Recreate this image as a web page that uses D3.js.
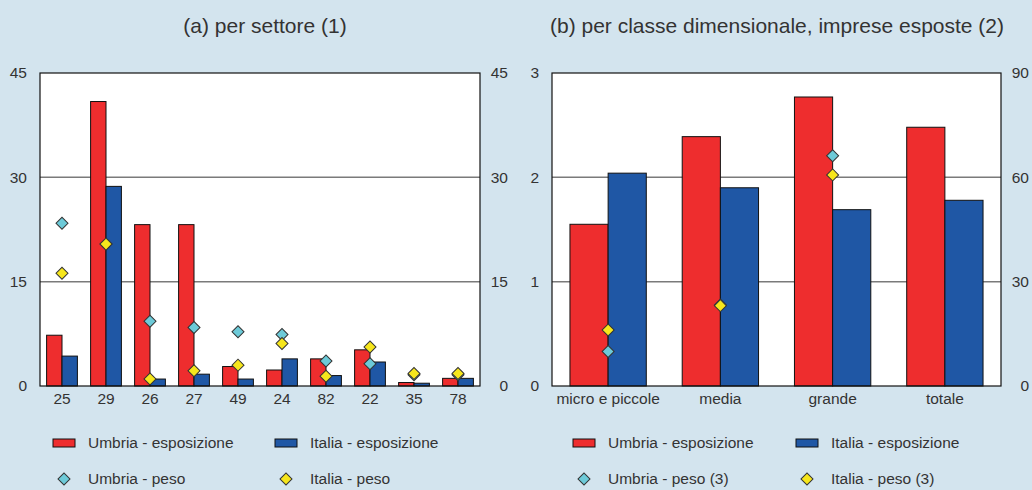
<!DOCTYPE html>
<html>
<head>
<meta charset="utf-8">
<script src="https://cdn.jsdelivr.net/npm/d3@7"></script>
<style>
  body { margin: 0; background: #d3e4ee; }
  svg { display: block; font-family: "Liberation Sans", Arial, sans-serif; }
</style>
</head>
<body>
<svg id="mainSvg" width="1032" height="490"></svg>
<script>
// ---- data, panel (a) per settore
var settori = ["25", "29", "26", "27", "49", "24", "82", "22", "35", "78"];
var umbriaEspA = [7.3, 40.9, 23.2, 23.2, 2.8, 2.3, 3.9, 5.2, 0.5, 1.1];
var italiaEspA = [4.3, 28.7, 1.0, 1.7, 1.0, 3.9, 1.5, 3.45, 0.4, 1.1];
var umbriaPesoA = [23.4, 20.4, 9.3, 8.4, 7.8, 7.4, 3.6, 3.2, 1.6, 1.6];
var italiaPesoA = [16.2, 20.4, 1.0, 2.2, 3.0, 6.1, 1.4, 5.6, 1.8, 1.8];
var ticksA = [0, 15, 30, 45];

// ---- data, panel (b) per classe dimensionale
var classi = ["micro e piccole", "media", "grande", "totale"];
var umbriaEspB = [1.55, 2.39, 2.77, 2.48];
var italiaEspB = [2.04, 1.90, 1.69, 1.78];
var umbriaPesoB = [9.9, 23.3, 66.2, null];
var italiaPesoB = [16.1, 23.1, 60.7, null];
var ticksBLeft = [0, 1, 2, 3];
var ticksBRight = [0, 30, 60, 90];

var colRed = "#ee2d2e", colBlue = "#1f57a5", colCyan = "#6dcad8", colYellow = "#f6e61c";
var textCol = "#333";

var svg = d3.select("#mainSvg");
var plotTop = 73, plotBottom = 386;

function drawPanel(opt){
    var g = svg.append("g").attr("class", "panel");

    var x = d3.scaleBand().domain(opt.cats).range([opt.x0, opt.x1]).paddingInner(opt.pad).paddingOuter(opt.pad / 2);
    var xs = d3.scaleBand().domain(["u", "i"]).range([0, x.bandwidth()]);
    var yL = d3.scaleLinear().domain([0, opt.leftMax]).range([plotBottom, plotTop]);
    var yR = d3.scaleLinear().domain([0, opt.rightMax]).range([plotBottom, plotTop]);

    // title
    g.append("text")
        .attr("x", opt.titleX)
        .attr("y", 33)
        .attr("text-anchor", "middle")
        .attr("font-size", "21px")
        .attr("fill", textCol)
        .text(opt.title);

    // plot background
    g.append("rect")
        .attr("x", opt.x0).attr("y", plotTop)
        .attr("width", opt.x1 - opt.x0).attr("height", plotBottom - plotTop)
        .attr("fill", "white");

    // gridlines
    g.selectAll(".grid")
        .data(opt.leftTicks.slice(1, -1))
        .enter()
        .append("line")
        .attr("x1", opt.x0).attr("x2", opt.x1)
        .attr("y1", function(d){ return yL(d); })
        .attr("y2", function(d){ return yL(d); })
        .attr("stroke", "#7a7a7a")
        .attr("stroke-width", 1.5);

    // bars
    var rows = opt.cats.map(function(c, i){
        return {cat: c, u: opt.uEsp[i], it: opt.iEsp[i], up: opt.uPeso[i], ip: opt.iPeso[i]};
    });

    var groups = g.selectAll(".barGroup")
        .data(rows)
        .enter()
        .append("g")
        .attr("transform", function(d){ return "translate(" + x(d.cat) + ",0)"; });

    groups.append("rect")
        .attr("x", xs("u"))
        .attr("y", function(d){ return yL(d.u); })
        .attr("width", xs.bandwidth())
        .attr("height", function(d){ return plotBottom - yL(d.u); })
        .attr("fill", colRed)
        .attr("stroke", "#111")
        .attr("stroke-width", 1);

    groups.append("rect")
        .attr("x", xs("i"))
        .attr("y", function(d){ return yL(d.it); })
        .attr("width", xs.bandwidth())
        .attr("height", function(d){ return plotBottom - yL(d.it); })
        .attr("fill", colBlue)
        .attr("stroke", "#111")
        .attr("stroke-width", 1);

    // diamonds
    var diamond = d3.symbol().type(d3.symbolSquare).size(72);
    var cx = x.bandwidth() / 2;

    groups.filter(function(d){ return d.up != null; })
        .append("path")
        .attr("d", diamond)
        .attr("transform", function(d){ return "translate(" + cx + "," + yR(d.up) + ") rotate(45)"; })
        .attr("fill", colCyan)
        .attr("stroke", "#333")
        .attr("stroke-width", 1);

    groups.filter(function(d){ return d.ip != null; })
        .append("path")
        .attr("d", diamond)
        .attr("transform", function(d){ return "translate(" + cx + "," + yR(d.ip) + ") rotate(45)"; })
        .attr("fill", colYellow)
        .attr("stroke", "#333")
        .attr("stroke-width", 1);

    // frame
    g.append("rect")
        .attr("x", opt.x0).attr("y", plotTop)
        .attr("width", opt.x1 - opt.x0).attr("height", plotBottom - plotTop)
        .attr("fill", "none")
        .attr("stroke", "#111")
        .attr("stroke-width", 1.2);

    // axes
    var leftAxis = g.append("g")
        .attr("transform", "translate(" + opt.x0 + ",0)")
        .call(d3.axisLeft(yL).tickValues(opt.leftTicks).tickFormat(d3.format("d")).tickSize(0).tickPadding(13));
    var rightAxis = g.append("g")
        .attr("transform", "translate(" + opt.x1 + ",0)")
        .call(d3.axisRight(yR).tickValues(opt.rightTicks).tickFormat(d3.format("d")).tickSize(0).tickPadding(0));
    rightAxis.selectAll("text").attr("text-anchor", "end").attr("x", 28);

    var bottomAxis = g.append("g")
        .attr("transform", "translate(0," + plotBottom + ")")
        .call(d3.axisBottom(x).tickSize(0).tickPadding(7));

    [leftAxis, rightAxis, bottomAxis].forEach(function(a){
        a.select(".domain").remove();
        a.selectAll("text")
            .attr("font-size", "15.5px")
            .attr("fill", textCol)
            .attr("font-family", "Liberation Sans, Arial, sans-serif");
    });

    // legend
    var lx = opt.legX[0], lx2 = opt.legX[1];
    var legend = [
        {x: lx, y: 443, kind: "rect", color: colRed, label: "Umbria - esposizione"},
        {x: lx2, y: 443, kind: "rect", color: colBlue, label: "Italia - esposizione"},
        {x: lx, y: 479, kind: "diamond", color: colCyan, label: opt.pesoLabel[0]},
        {x: lx2, y: 479, kind: "diamond", color: colYellow, label: opt.pesoLabel[1]}
    ];
    var lg = g.selectAll(".legItem")
        .data(legend)
        .enter()
        .append("g")
        .attr("transform", function(d){ return "translate(" + d.x + "," + d.y + ")"; });

    lg.filter(function(d){ return d.kind == "rect"; })
        .append("rect")
        .attr("x", 0).attr("y", -4)
        .attr("width", 22).attr("height", 8)
        .attr("fill", function(d){ return d.color; })
        .attr("stroke", "#111")
        .attr("stroke-width", 1);

    lg.filter(function(d){ return d.kind == "diamond"; })
        .append("path")
        .attr("d", diamond)
        .attr("transform", "translate(11,0) rotate(45)")
        .attr("fill", function(d){ return d.color; })
        .attr("stroke", "#333")
        .attr("stroke-width", 1);

    lg.append("text")
        .attr("x", 35)
        .attr("dy", "0.35em")
        .attr("font-size", "15.5px")
        .attr("fill", textCol)
        .text(function(d){ return d.label; });
}

drawPanel({
    title: "(a) per settore (1)", titleX: 265,
    cats: settori, uEsp: umbriaEspA, iEsp: italiaEspA, uPeso: umbriaPesoA, iPeso: italiaPesoA,
    x0: 40, x1: 480, pad: 0.3,
    leftMax: 45, rightMax: 45, leftTicks: ticksA, rightTicks: ticksA,
    legX: [53, 275],
    pesoLabel: ["Umbria - peso", "Italia - peso"]
});

drawPanel({
    title: "(b) per classe dimensionale, imprese esposte (2)", titleX: 777,
    cats: classi, uEsp: umbriaEspB, iEsp: italiaEspB, uPeso: umbriaPesoB, iPeso: italiaPesoB,
    x0: 552, x1: 1001, pad: 0.32,
    leftMax: 3, rightMax: 90, leftTicks: ticksBLeft, rightTicks: ticksBRight,
    legX: [573, 796],
    pesoLabel: ["Umbria - peso (3)", "Italia - peso (3)"]
});
</script>
</body>
</html>
